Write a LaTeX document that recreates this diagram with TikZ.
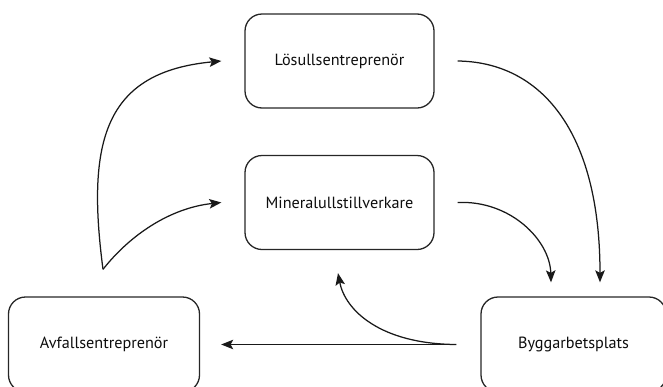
\documentclass[tikz,border=0pt]{standalone}
\usepackage{fontspec}
\setmainfont{PT Sans}
\usetikzlibrary{arrows.meta}
\begin{document}
\begin{tikzpicture}[x=1pt,y=-1pt,
  box/.style={draw=black!85, line width=1.3pt, rounded corners=17pt, minimum width=189pt, minimum height=94pt, inner sep=0pt, font=\fontsize{16.2}{19}\selectfont, text=black!95},
  flow/.style={line width=1.25pt, draw=black!90, -{Stealth[length=12pt,width=9.5pt,inset=2.5pt]}}]
\useasboundingbox (0,0) rectangle (663,386);
\clip (0,0) rectangle (663,386);
\node[box] (los) at (339.5,61) {Lösullsentreprenör};
\node[box] (min) at (339.5,202.5) {Mineralullstillverkare};
\node[box, minimum width=191pt, minimum height=95pt] (avf) at (104,344.5) {Avfallsentreprenör};
\node[box, minimum width=185pt, minimum height=95pt] (byg) at (573.5,344.5) {Byggarbetsplats};
\coordinate (fork) at ([xshift=-1pt,yshift=27pt]avf.north);
\coordinate (losin) at ([xshift=-23pt]los.west);
\coordinate (minin) at ([xshift=-23pt]min.west);
\coordinate (losout) at ([xshift=23pt]los.east);
\coordinate (minout) at ([xshift=23pt]min.east);
\coordinate (bygin1) at ([xshift=-22.5pt,yshift=14pt]byg.north);
\coordinate (bygin2) at ([xshift=26.5pt,yshift=14pt]byg.north);
\coordinate (bygout) at ([xshift=-24pt]byg.west);
\coordinate (avfin) at ([xshift=21pt]avf.east);
\coordinate (minin2) at ([xshift=-1.5pt,yshift=-23pt]min.south);
\draw[flow] (fork) .. controls (86,140) and (105,72) .. (losin);
\draw[flow] (fork) .. controls (130,235) and (170,208) .. (minin);
\draw[flow] (losout) .. controls (540,62) and (600,130) .. (bygin2);
\draw[flow] (minout) .. controls (510,200) and (550,240) .. (bygin1);
\draw[flow] (bygout) -- (avfin);
\draw[flow] (bygout) .. controls (380,344) and (345,310) .. (minin2);
\end{tikzpicture}
\end{document}
